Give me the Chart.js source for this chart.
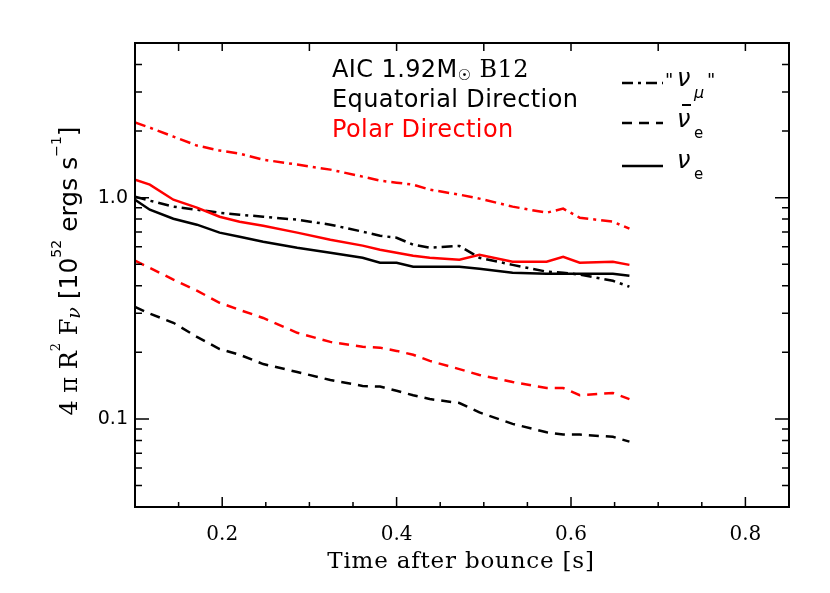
<!DOCTYPE html>
<html>
<head>
<meta charset="utf-8">
<script src="https://cdn.jsdelivr.net/npm/chart.js@4.4.0/dist/chart.umd.min.js"></script>
<style>
  html, body { margin: 0; padding: 0; background: #fff; }
  canvas { display: block; }
</style>
</head>
<body>
<canvas id="fluxChart" width="830" height="593"></canvas>
<script>
// --- data ---
// time after bounce [s]
const timeSec = [0.100, 0.117, 0.144, 0.171, 0.197, 0.220, 0.247, 0.286, 0.324, 0.361, 0.381,
                 0.400, 0.419, 0.438, 0.472, 0.495, 0.533, 0.572, 0.591, 0.610, 0.648, 0.667];

// equatorial direction (black), 4 pi R^2 F [1e52 erg/s]
const eqNuE     = [0.979, 0.882, 0.803, 0.755, 0.695, 0.666, 0.632, 0.594, 0.564, 0.535, 0.508,
                   0.508, 0.487, 0.487, 0.487, 0.477, 0.458, 0.453, 0.453, 0.453, 0.453, 0.444];
const eqAntiNuE = [0.321, 0.299, 0.272, 0.235, 0.207, 0.195, 0.177, 0.163, 0.150, 0.141, 0.140,
                   0.134, 0.128, 0.123, 0.118, 0.107, 0.095, 0.087, 0.085, 0.085, 0.083, 0.079];
const eqNuMu    = [1.010, 0.969, 0.911, 0.882, 0.855, 0.838, 0.820, 0.795, 0.755, 0.702, 0.673,
                   0.659, 0.613, 0.594, 0.605, 0.535, 0.497, 0.463, 0.458, 0.449, 0.421, 0.396];

// polar direction (red)
const polNuE     = [1.206, 1.145, 0.979, 0.901, 0.820, 0.779, 0.747, 0.695, 0.645, 0.607, 0.582,
                    0.564, 0.547, 0.535, 0.524, 0.552, 0.513, 0.513, 0.541, 0.508, 0.513, 0.497];
const polAntiNuE = [0.519, 0.482, 0.426, 0.380, 0.335, 0.311, 0.286, 0.245, 0.223, 0.212, 0.210,
                    0.203, 0.195, 0.183, 0.168, 0.158, 0.147, 0.138, 0.138, 0.128, 0.131, 0.123];
const polNuMu    = [2.185, 2.073, 1.888, 1.720, 1.632, 1.581, 1.485, 1.411, 1.339, 1.245, 1.194,
                    1.169, 1.145, 1.087, 1.032, 0.990, 0.911, 0.855, 0.892, 0.812, 0.779, 0.724];

// labelled ticks
const xTickLabels = [0.2, 0.4, 0.6, 0.8];
const yTickLabels = [0.1, 1.0];
// tick marks along the top edge
const xTopTicks = [0.15, 0.2, 0.3, 0.4, 0.5, 0.6, 0.7, 0.8];

const RED = '#ff0000';
const DASH_DOT = [11, 5, 3, 5];
const DASHED = [10, 7];

function toPoints(vals) {
    return vals.map((v, i) => ({ x: timeSec[i], y: v }));
}

function makeSet(label, vals, color, dash) {
    return {
        label: label,
        data: toPoints(vals),
        borderColor: color,
        backgroundColor: color,
        borderWidth: 2.5,
        borderDash: dash,
        pointRadius: 0,
        tension: 0,
        fill: false
    };
}

// draw a run of text pieces (font / baseline shift) starting at x
function drawRun(ctx, parts, x, y) {
    parts.forEach(p => {
        ctx.font = p.font;
        ctx.fillText(p.t, x, y + (p.dy || 0));
        x += ctx.measureText(p.t).width;
    });
    return x;
}

function runWidth(ctx, parts) {
    let w = 0;
    parts.forEach(p => { ctx.font = p.font; w += ctx.measureText(p.t).width; });
    return w;
}

// --- frame, inward ticks, titles, notes and legend ---
const frameAndText = {
    id: 'frameAndText',
    afterDraw(chart) {
        const ctx = chart.ctx;
        const xs = chart.scales.x, ys = chart.scales.y;
        const { left, right, top, bottom } = chart.chartArea;

        ctx.save();
        ctx.strokeStyle = '#000';
        ctx.lineWidth = 2;
        ctx.setLineDash([]);
        ctx.strokeRect(left, top, right - left, bottom - top);

        ctx.lineWidth = 1.5;
        ctx.beginPath();
        // bottom ticks every 0.05, long at 0.2 steps
        for (let k = 3; k <= 16; k++) {
            const px = xs.getPixelForValue(k * 0.05);
            const len = (k % 4 === 0) ? 10 : 5;
            ctx.moveTo(px, bottom); ctx.lineTo(px, bottom - len);
        }
        xTopTicks.forEach(t => {
            const px = xs.getPixelForValue(t);
            ctx.moveTo(px, top); ctx.lineTo(px, top + 8);
        });
        // log y ticks, both sides
        for (let e = -2; e <= 0; e++) {
            for (let m = 1; m <= 9; m++) {
                const v = m * Math.pow(10, e);
                if (v <= ys.min * 1.0001 || v >= ys.max * 0.9999) continue;
                const py = ys.getPixelForValue(v);
                const len = (m === 1) ? 14 : 7;
                ctx.moveTo(left, py); ctx.lineTo(left + len, py);
                ctx.moveTo(right, py); ctx.lineTo(right - len, py);
            }
        }
        ctx.stroke();

        ctx.fillStyle = '#000';
        ctx.textBaseline = 'alphabetic';

        // x axis title
        ctx.textAlign = 'center';
        ctx.font = '23px "DejaVu Serif"';
        if ('letterSpacing' in ctx) ctx.letterSpacing = '0.8px';
        ctx.fillText('Time after bounce [s]', 461, 568);
        if ('letterSpacing' in ctx) ctx.letterSpacing = '0px';

        // y axis title, rotated
        const serif = '"DejaVu Serif"', sans = '"DejaVu Sans"';
        const yParts = [
            { t: '4 \u03C0 R', font: '24px ' + serif },
            { t: '2', font: '13px ' + serif, dy: -17 },
            { t: ' F', font: '24px ' + serif },
            { t: '\u03BD', font: 'italic 19px ' + serif, dy: 3 },
            { t: ' [10', font: '25px ' + sans },
            { t: '52', font: '14px ' + sans, dy: -16 },
            { t: ' ergs s', font: '25px ' + sans },
            { t: '\u22121', font: '14px ' + sans, dy: -16 },
            { t: ']', font: '25px ' + sans }
        ];
        ctx.save();
        ctx.translate(77, 271);
        ctx.rotate(-Math.PI / 2);
        ctx.textAlign = 'left';
        drawRun(ctx, yParts, -runWidth(ctx, yParts) / 2, 0);
        ctx.restore();

        // notes
        ctx.textAlign = 'left';
        if ('letterSpacing' in ctx) ctx.letterSpacing = '0.4px';
        drawRun(ctx, [
            { t: 'AIC 1.92M', font: '24px ' + sans },
            { t: '\u2609', font: '15px ' + sans, dy: 3 },
            { t: ' B12', font: '24px ' + serif }
        ], 332, 77);
        ctx.font = '24px ' + sans;
        ctx.fillText('Equatorial Direction', 332, 107);
        ctx.fillStyle = RED;
        ctx.fillText('Polar Direction', 332, 137);
        if ('letterSpacing' in ctx) ctx.letterSpacing = '0px';

        // legend (line styles, black)
        ctx.fillStyle = '#000';
        ctx.strokeStyle = '#000';
        ctx.lineWidth = 2.5;
        [[DASH_DOT, 83], [DASHED, 123], [[], 166]].forEach(([dash, y]) => {
            ctx.setLineDash(dash);
            ctx.beginPath();
            ctx.moveTo(622, y); ctx.lineTo(663, y);
            ctx.stroke();
        });
        ctx.setLineDash([]);
        const nu = 'italic 24px ' + sans;
        ctx.font = '18px ' + sans;
        ctx.fillText('"', 665, 86);
        ctx.fillText('"', 707, 86);
        ctx.font = nu;
        ctx.fillText('\u03BD', 677, 86);
        ctx.font = 'italic 16px ' + sans;
        ctx.fillText('\u03BC', 694, 98);

        ctx.font = nu;
        ctx.fillText('\u03BD', 677, 127);
        ctx.lineWidth = 2;
        ctx.beginPath();
        ctx.moveTo(682, 105); ctx.lineTo(691, 105);
        ctx.stroke();
        ctx.font = '15px ' + sans;
        ctx.fillText('e', 694, 138);

        ctx.font = nu;
        ctx.fillText('\u03BD', 677, 168);
        ctx.font = '15px ' + sans;
        ctx.fillText('e', 694, 179);

        ctx.restore();
    }
};

const ctx = document.getElementById('fluxChart').getContext('2d');
new Chart(ctx, {
    type: 'line',
    data: {
        datasets: [
            makeSet('Polar nu_mu', polNuMu, RED, DASH_DOT),
            makeSet('Polar nu_e', polNuE, RED, []),
            makeSet('Polar anti nu_e', polAntiNuE, RED, DASHED),
            makeSet('Equatorial nu_mu', eqNuMu, '#000', DASH_DOT),
            makeSet('Equatorial nu_e', eqNuE, '#000', []),
            makeSet('Equatorial anti nu_e', eqAntiNuE, '#000', DASHED)
        ]
    },
    options: {
        responsive: false,
        maintainAspectRatio: false,
        animation: false,
        layout: { padding: { left: 0, top: 43, right: 41, bottom: 0 } },
        plugins: {
            legend: { display: false },
            tooltip: { enabled: false },
            title: { display: false }
        },
        scales: {
            x: {
                type: 'linear',
                min: 0.1,
                max: 0.85,
                grid: { display: false, drawTicks: false },
                border: { display: false },
                afterFit: function(scale) { scale.height = 86; },
                ticks: {
                    stepSize: 0.05,
                    autoSkip: false,
                    maxRotation: 0,
                    padding: 16,
                    color: '#000',
                    font: { family: 'DejaVu Serif', size: 20 },
                    callback: function(value) {
                        const hit = xTickLabels.some(t => Math.abs(t - value) < 1e-6);
                        return hit ? Number(value).toFixed(1) : '';
                    }
                }
            },
            y: {
                type: 'logarithmic',
                min: 0.04,
                max: 5,
                grid: { display: false, drawTicks: false },
                border: { display: false },
                afterFit: function(scale) { scale.width = 135; },
                ticks: {
                    autoSkip: false,
                    padding: 7,
                    color: '#000',
                    font: { family: 'DejaVu Sans', size: 19 },
                    callback: function(value) {
                        const hit = yTickLabels.some(t => Math.abs(t - value) < 1e-9);
                        return hit ? Number(value).toFixed(1) : '';
                    }
                }
            }
        }
    },
    plugins: [frameAndText]
});
</script>
</body>
</html>
